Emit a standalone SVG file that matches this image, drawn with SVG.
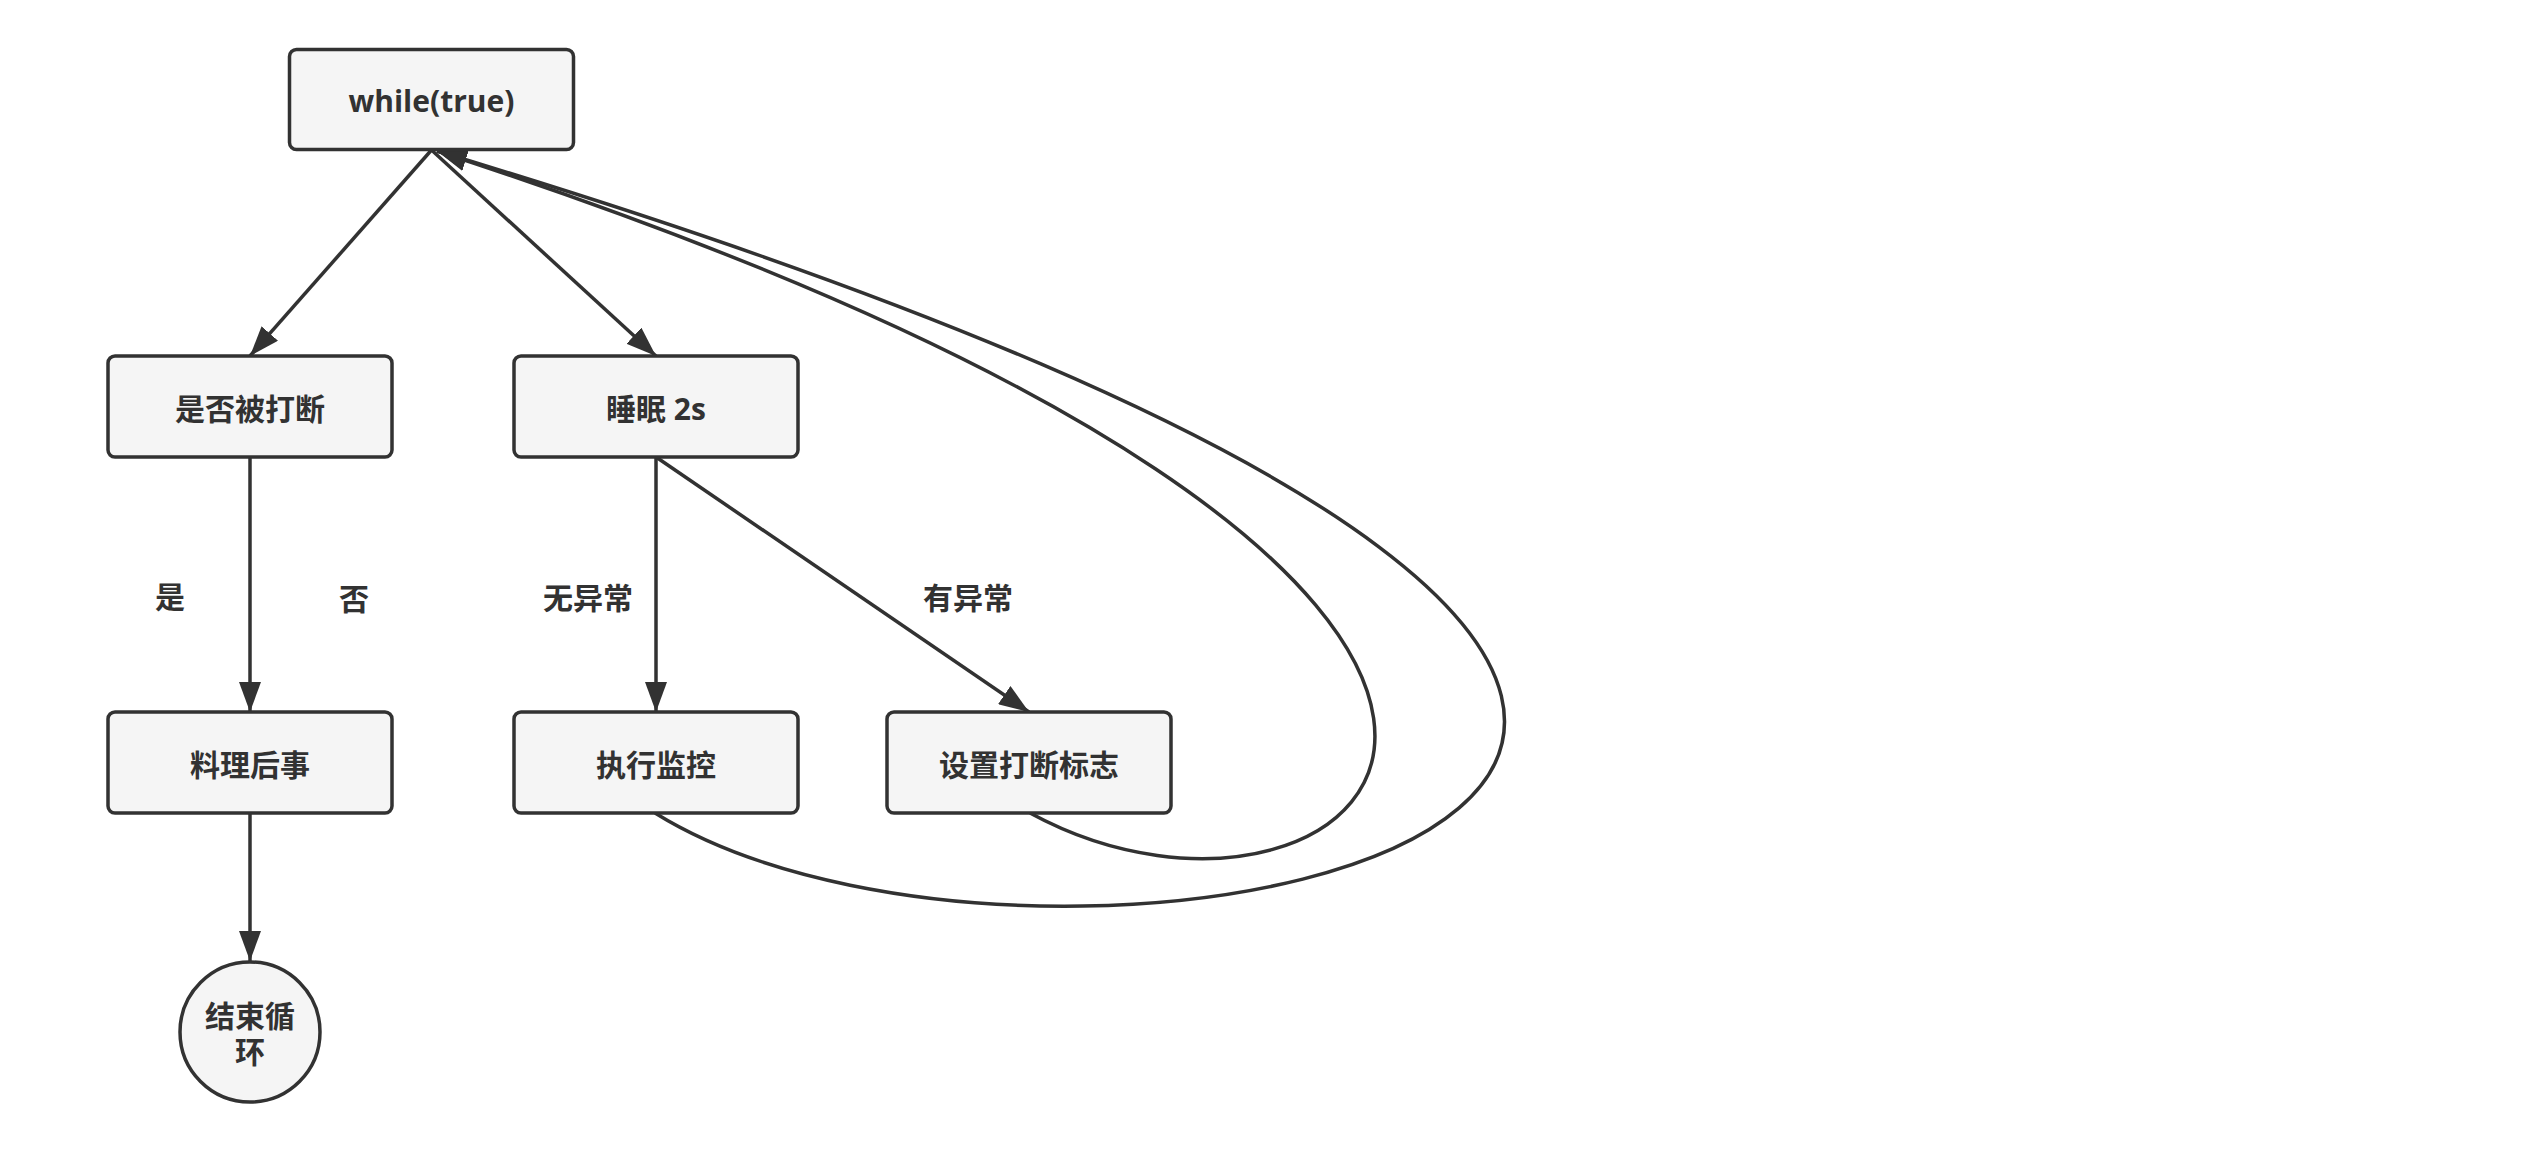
<svg xmlns="http://www.w3.org/2000/svg" width="2524" height="1150" viewBox="0 0 2524 1150">
  <defs>
    <style>
      .node rect, .node ellipse { fill: #f5f5f5; stroke: #323232; stroke-width: 3.5; }
      .node text, .label { font-family: "Open Sans", "Noto Sans CJK SC", sans-serif; font-weight: bold; font-size: 30px; fill: #323232; text-anchor: middle; dominant-baseline: central; }
      .edge { fill: none; stroke: #323232; stroke-width: 3.5; marker-end: url(#arrow); }
    </style>
    <marker id="arrow" markerUnits="userSpaceOnUse" viewBox="0 0 30 22" refX="30" refY="11" markerWidth="30" markerHeight="22" orient="auto">
      <path d="M0,0 L30,11 L0,22 Z" fill="#323232"/>
    </marker>
  </defs>
  <rect width="2524" height="1150" fill="#ffffff"/>

  <g id="connectors">
    <line class="edge" x1="431.5" y1="150" x2="250" y2="356"/>
    <line class="edge" x1="431.5" y1="150" x2="656" y2="356"/>
    <line class="edge" x1="250" y1="457" x2="250" y2="712"/>
    <line class="edge" x1="656" y1="457" x2="656" y2="712"/>
    <line class="edge" x1="656" y1="457" x2="1029" y2="712"/>
    <line class="edge" x1="250" y1="813" x2="250" y2="961"/>
    <path class="edge" d="M655,813 C1080,1077 2447,756 437,151"/>
    <path class="edge" d="M1030,813 C1366,996 1808,598 437,151"/>
  </g>

  <g id="node-while" class="node">
    <rect x="289.5" y="49.5" width="284" height="100" rx="7"/>
    <text x="431.5" y="100">while(true)</text>
  </g>
  <g id="node-interrupted" class="node">
    <rect x="108" y="356" width="284" height="101" rx="7"/>
    <text x="250" y="408">是否被打断</text>
  </g>
  <g id="node-sleep" class="node">
    <rect x="514" y="356" width="284" height="101" rx="7"/>
    <text x="656" y="408">睡眠 2s</text>
  </g>
  <g id="node-cleanup" class="node">
    <rect x="108" y="712" width="284" height="101" rx="7"/>
    <text x="250" y="764">料理后事</text>
  </g>
  <g id="node-monitor" class="node">
    <rect x="514" y="712" width="284" height="101" rx="7"/>
    <text x="656" y="764">执行监控</text>
  </g>
  <g id="node-setflag" class="node">
    <rect x="887" y="712" width="284" height="101" rx="7"/>
    <text x="1029" y="764">设置打断标志</text>
  </g>
  <g id="node-end" class="node">
    <ellipse cx="250" cy="1032" rx="70" ry="70"/>
    <text x="250" y="1015">结束循</text>
    <text x="250" y="1051">环</text>
  </g>

  <g id="labels">
    <text class="label" x="170" y="596">是</text>
    <text class="label" x="354" y="598">否</text>
    <text class="label" x="588" y="597">无异常</text>
    <text class="label" x="968" y="597">有异常</text>
  </g>
</svg>
